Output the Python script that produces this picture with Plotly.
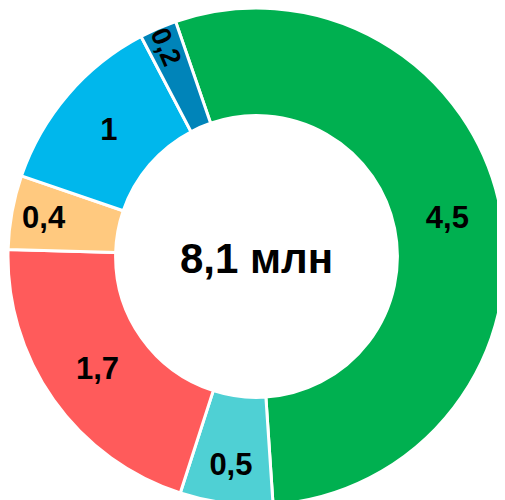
import plotly.graph_objects as go

labels = ["A", "B", "C", "D", "E", "F"]
values = [4.5, 0.5, 1.7, 0.4, 1.0, 0.2]
text_labels = ["4,5", "0,5", "1,7", "0,4", "1", "0,2"]
colors = ["#00B050", "#4FD0D4", "#FF5B5B", "#FFC97F", "#00B7EC", "#0084B9"]
center_text = "8,1 млн"

W, H = 497, 497

fig = go.Figure(go.Pie(
    labels=labels,
    values=values,
    text=text_labels,
    textinfo="text",
    hole=0.567,
    sort=False,
    direction="clockwise",
    rotation=-19,
    marker=dict(colors=colors, line=dict(color="white", width=3)),
    textfont=dict(family="Liberation Sans", size=31, color="black", weight="bold"),
    insidetextorientation="auto",
    textposition="inside",
    domain=dict(x=[0, 1], y=[0, 1]),
    showlegend=False,
))

fig.add_annotation(text="<b>" + center_text + "</b>", x=0.5, y=0.5, xref="paper", yref="paper",
                   showarrow=False, yshift=-2,
                   font=dict(family="Liberation Sans", size=42, color="black"))

fig.update_layout(
    width=W, height=H,
    margin=dict(l=0, r=0, t=0, b=0),
    paper_bgcolor="white",
    plot_bgcolor="white",
)

fig.write_html("out.html")
